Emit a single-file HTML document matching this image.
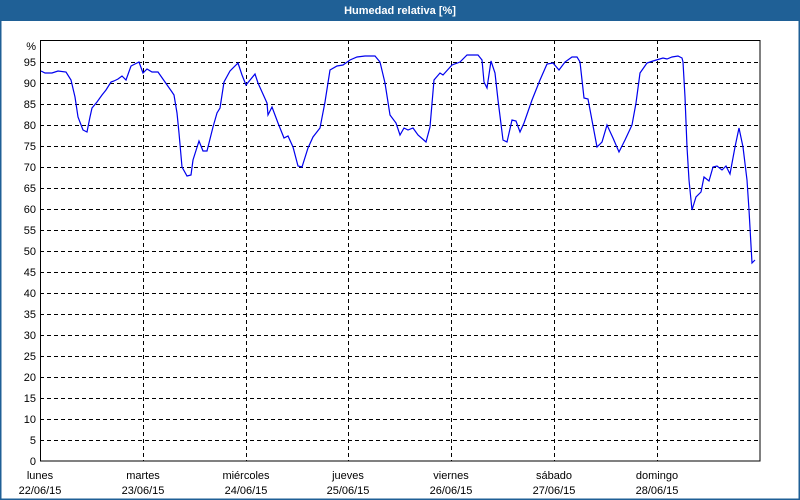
<!DOCTYPE html>
<html><head><meta charset="utf-8"><style>
html,body{margin:0;padding:0;background:#fff}
svg{display:block}
text{font-family:"Liberation Sans",sans-serif;font-size:11px;fill:#000}
</style></head><body>
<svg width="800" height="500" viewBox="0 0 800 500" xmlns="http://www.w3.org/2000/svg">
<rect x="0" y="0" width="800" height="500" fill="#fff"/>
<rect x="0.5" y="0.5" width="799" height="499" fill="none" stroke="#1f5f96" stroke-width="2"/>
<rect x="0" y="0" width="800" height="21" fill="#1f6096"/>
<text x="400" y="14" text-anchor="middle" style="fill:#fff;font-weight:bold;font-size:11px">Humedad relativa [%]</text>
<g stroke="#000" stroke-width="1" stroke-dasharray="4,3">
<line x1="40" x2="760" y1="62.5" y2="62.5"/><line x1="40" x2="760" y1="83.5" y2="83.5"/><line x1="40" x2="760" y1="104.5" y2="104.5"/><line x1="40" x2="760" y1="125.5" y2="125.5"/><line x1="40" x2="760" y1="146.5" y2="146.5"/><line x1="40" x2="760" y1="167.5" y2="167.5"/><line x1="40" x2="760" y1="188.5" y2="188.5"/><line x1="40" x2="760" y1="209.5" y2="209.5"/><line x1="40" x2="760" y1="230.5" y2="230.5"/><line x1="40" x2="760" y1="251.5" y2="251.5"/><line x1="40" x2="760" y1="272.5" y2="272.5"/><line x1="40" x2="760" y1="293.5" y2="293.5"/><line x1="40" x2="760" y1="314.5" y2="314.5"/><line x1="40" x2="760" y1="335.5" y2="335.5"/><line x1="40" x2="760" y1="356.5" y2="356.5"/><line x1="40" x2="760" y1="377.5" y2="377.5"/><line x1="40" x2="760" y1="398.5" y2="398.5"/><line x1="40" x2="760" y1="419.5" y2="419.5"/><line x1="40" x2="760" y1="440.5" y2="440.5"/>
<line y1="40" y2="461" x1="143.5" x2="143.5"/><line y1="40" y2="461" x1="246.5" x2="246.5"/><line y1="40" y2="461" x1="348.5" x2="348.5"/><line y1="40" y2="461" x1="451.5" x2="451.5"/><line y1="40" y2="461" x1="554.5" x2="554.5"/><line y1="40" y2="461" x1="657.5" x2="657.5"/>
</g>
<rect x="40.5" y="40.5" width="719.5" height="420.5" fill="none" stroke="#000" stroke-width="1"/>
<g text-anchor="end">
<text x="36" y="50">%</text>
<text x="36" y="66">95</text><text x="36" y="87">90</text><text x="36" y="108">85</text><text x="36" y="129">80</text><text x="36" y="150">75</text><text x="36" y="171">70</text><text x="36" y="192">65</text><text x="36" y="213">60</text><text x="36" y="234">55</text><text x="36" y="255">50</text><text x="36" y="276">45</text><text x="36" y="297">40</text><text x="36" y="318">35</text><text x="36" y="339">30</text><text x="36" y="360">25</text><text x="36" y="381">20</text><text x="36" y="402">15</text><text x="36" y="423">10</text><text x="36" y="444">5</text><text x="36" y="465">0</text>
</g>
<g text-anchor="middle">
<text x="40" y="479">lunes</text><text x="40" y="494">22/06/15</text>
<text x="143" y="479">martes</text><text x="143" y="494">23/06/15</text>
<text x="246" y="479">miércoles</text><text x="246" y="494">24/06/15</text>
<text x="348" y="479">jueves</text><text x="348" y="494">25/06/15</text>
<text x="451" y="479">viernes</text><text x="451" y="494">26/06/15</text>
<text x="554" y="479">sábado</text><text x="554" y="494">27/06/15</text>
<text x="657" y="479">domingo</text><text x="657" y="494">28/06/15</text>
</g>
<polyline fill="none" stroke="#0000ee" stroke-width="1.2" points="41,71 45,73 52,73 58,71 66,72 71,80 75,97 78,117 83,130 87,132 90,117 92,108 97,102 102,95 106,90 111,82 114,81 118,79 122,76 126,80 131,66 135,64 139,62 143,73 147,69 152,72 158,72 165,82 172,92 174,95 177,113 179,133 182,167 187,176 191,175 193,160 199,141 203,151 207,151 213,127 217,113 220,108 224,82 230,71 238,63 242,75 246,85 255,74 258,83 267,103 268,115 272,107 278,123 284,138 288,136 293,147 298,166 302,167 308,148 313,137 320,128 325,102 330,70 337,66 343,65 350,60 357,57 365,56 375,56 380,62 385,83 390,115 396,123 400,135 404,128 408,130 413,128 418,135 426,142 430,127 434,80 440,73 443,75 452,65 460,62 467,55 478,55 482,60 484,82 487,88 491,61 495,73 498,100 503,140 507,142 512,120 516,121 520,132 524,123 532,100 540,80 547,64 553,63 559,70 565,62 572,57 577,57 580,62 584,98 588,99 597,147 602,142 607,125 613,138 619,152 625,140 632,125 636,103 640,73 647,63 653,61 663,58 667,59 672,57 678,56 682,58 683,62 685,97 687,147 689,180 692,210 696,197 701,192 704,177 709,181 713,167 717,166 722,170 726,166 730,174 735,147 739,128 743,147 747,180 749,210 752,263 755,260"/>
</svg>
</body></html>
